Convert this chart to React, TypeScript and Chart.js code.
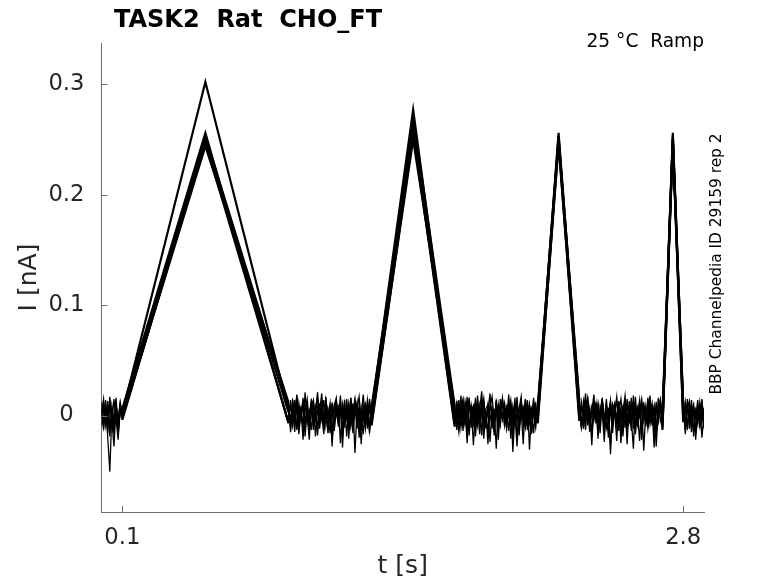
import { useEffect, useRef } from 'react';
import { Chart, registerables } from 'chart.js';

Chart.register(...registerables);

const FONT = '"DejaVu Sans", sans-serif';
const AXIS_GRAY = '#6e6e6e';
const TEXT_GRAY = '#262626';

const TITLE = 'TASK2  Rat  CHO_FT';
const CONDITION = '25 °C  Ramp';
const SOURCE = 'BBP Channelpedia ID 29159 rep 2';

const xTicks = [0.1, 2.8];
const yTicks = [0, 0.1, 0.2, 0.3];

// baseline samples are 10 ms apart inside each holding window (s)
const SAMPLE_DT = 0.01;
const baselineWindows: [number, number][] = [[0, 0.1], [0.9, 1.3], [1.7, 2.1], [2.3, 2.7], [2.8, 2.9]];
const rampPeakTimes = [0.5, 1.5, 2.2, 2.75];

// peak current of each ramp per sweep (nA)
const peaksA = [0.302, 0.277, 0.256, 0.256];
const peaksB = [0.256, 0.27, 0.253, 0.253];
const peaksC = [0.253, 0.262, 0.25, 0.25];
const peaksD = [0.25, 0.255, 0.248, 0.248];
const peaksE = [0.247, 0.25, 0.245, 0.246];
const peaksF = [0.244, 0.258, 0.251, 0.251];

// holding current in the windows between ramps per sweep (pA)
const baselineA = [
  8, -6, 14, -20, -51, 4, -12, 10, -4, 12, 2,
  5, -8, 12, -3, 18, -10, 6, -14, 9, 2, -6, 15, -2, 8, -11, 4, 20, -5, 10, -16, 3, 7, -9, 13, -4, 6, -20, 11, 0, -7, 16, -3, 9, -12, 5, -26, 8, -2, 14, -8, 4,
  -4, 10, -12, 7, 15, -6, 3, -18, 9, -2, 12, -9, 5, 22, -7, 1, -14, 8, 17, -5, 6, -22, 11, -3, 9, -10, 4, 14, -8, 2, -28, 7, 12, -4, 6, -13, 10, -1, 16, -6, 3,
  6, -9, 13, -2, 8, -15, 4, 19, -7, 11, -3, 5, -24, 9, 1, 14, -10, 7, -5, 12, -17, 3, 18, -6, 8, -2, -30, 10, -8, 5, 15, -4, 9, -12, 2, 11, -19, 6, -3, 13, -7,
  4, -10, 12, -6, 9, -14, 5, -3, 11, -20, 2,
];
const baselineB = [
  -3, 11, -9, 6, -14, 9, -5, 13, -18, 3, 6,
  -7, 9, -2, 14, -12, 5, -4, 10, -19, 7, 1, 12, -8, 3, 17, -6, 8, -13, 4, -1, 11, -24, 6, 13, -5, 2, 9, -11, 15, -3, 7, -16, 4, 10, -8, 1, 19, -4, 6, -14, 3,
  9, -5, 14, -11, 3, 7, -16, 12, -2, 5, -9, 18, -4, 8, -21, 6, 10, -3, 1, -13, 13, -7, 4, 16, -10, 7, -1, 11, -33, 3, 8, -6, 12, -2, 15, -9, 5, -17, 10, -4, 6,
  -2, 12, -8, 5, 16, -11, 7, -4, 10, -18, 3, 13, -6, 9, -1, -27, 6, 11, -9, 4, 15, -5, 8, -14, 2, 10, -3, 17, -10, 6, -22, 9, 1, -7, 12, -4, 8, -16, 5, 14, -9,
  -6, 8, -13, 11, -2, 7, -17, 10, -8, 4, -12,
];
const baselineC = [
  12, -10, 4, -16, 10, -7, 15, -3, -22, 8, 1,
  10, -4, 7, -15, 13, -1, 6, -10, 21, -6, 4, -13, 9, 2, -18, 11, -3, 14, -9, 6, -5, 12, -14, 3, 8, -25, 10, -2, 5, -11, 16, -7, 2, 12, -20, 7, -4, 9, -12, 15, -2,
  -8, 6, -14, 11, 2, -6, 17, -12, 4, 9, -19, 7, -3, 13, -9, 5, -26, 10, 3, -7, 14, -15, 8, -1, 11, -5, 19, -10, 6, -2, 12, -18, 4, 8, -8, 14, -31, 6, 2, -11, 9,
  11, -5, 3, -13, 17, -8, 6, -2, 12, -21, 8, 1, -10, 15, -6, 4, -16, 9, -3, 13, -25, 7, 2, 11, -7, 16, -12, 5, -1, 9, -15, 12, -6, 3, 18, -9, 7, -28, 4, 10, -3,
  9, -13, 6, -4, 14, -19, 3, -8, 12, -5, 7,
];
const baselineD = [
  -9, 6, -2, 13, -12, 5, -17, 9, -6, 11, -4,
  3, -11, 15, -5, 8, -17, 4, 11, -8, 1, -22, 9, 14, -4, 6, -12, 10, -2, 17, -9, 5, -15, 8, 2, -7, 13, -29, 6, -3, 11, -10, 4, 15, -6, 9, -1, -17, 12, -5, 7, -9,
  5, -13, 9, -4, 12, -8, 1, 16, -11, 6, -3, 10, -17, 4, 13, -6, 8, -24, 7, -2, 11, -9, 15, -4, 3, -12, 8, 1, -20, 12, -5, 6, 17, -10, 4, -3, 9, -15, 11, -7, 2,
  -5, 9, -12, 14, -3, 7, -19, 5, 10, -8, 2, 16, -14, 6, -4, 11, -9, 3, -23, 12, -2, 8, -11, 15, -6, 4, 13, -17, 7, -1, 10, -32, 5, -7, 12, -3, 8, -13, 16, -5, 2,
  -3, 12, -9, 5, -15, 8, -1, 14, -11, 6, -7,
];
const baselineE = [
  5, -13, 9, -8, 17, -4, -28, 7, -11, 4, -2,
  -6, 14, -9, 4, -13, 11, -3, 16, -7, 8, -14, 2, 12, -19, 7, -2, 9, -10, 14, 1, -16, 6, -8, 10, -4, 18, -12, 3, 7, -21, 9, -5, 13, -2, 5, -14, 10, -9, 2, 12, -6,
  7, -2, -15, 10, -6, 13, 3, -10, 8, -27, 5, 11, -7, 2, 15, -12, 9, -4, 6, -18, 12, 1, -9, 14, -3, 7, -14, 10, -6, 16, -22, 4, 9, -1, -11, 13, -7, 5, -16, 8, -2,
  3, -11, 8, -6, 13, 1, -16, 10, -4, 7, -12, 15, -8, 3, -20, 11, -2, 6, 12, -14, 4, -7, 9, -26, 13, -3, 7, -10, 2, 14, -18, 6, -5, 11, -8, 3, -13, 9, -4, 15, -11,
  6, -8, 15, -12, 3, 10, -16, 5, -9, 13, -5,
];
const baselineF = [
  2, 15, -7, 10, -19, 6, -9, 16, -14, 5, -1,
  12, -15, 6, -3, 19, -11, 8, -22, 4, 15, -6, 10, -13, 3, 21, -8, 1, -17, 13, -4, 7, -28, 9, 16, -10, 5, -2, 14, -19, 8, -5, 11, -34, 6, 17, -7, 3, -12, 10, -16, 8,
  -10, 13, -4, 18, -14, 7, -25, 11, 2, -8, 16, -3, 9, -18, 12, -6, 4, 20, -12, 6, -30, 10, -2, 15, -9, 3, 12, -21, 8, -5, 17, -11, 5, -26, 14, -1, 9, -15, 6, 11, -7,
  14, -12, 4, 20, -9, 6, -27, 12, -3, 9, -16, 15, 1, -11, 7, -35, 10, 3, 17, -8, 5, -19, 13, -4, 8, -14, 18, -6, 2, -23, 11, 6, -10, 16, -3, 7, -29, 12, -5, 9, -13,
  10, -17, 7, 13, -8, 4, -22, 9, -4, 15, -10,
];

const sweeps = [
  { baseline: baselineA, peaks: peaksA },
  { baseline: baselineB, peaks: peaksB },
  { baseline: baselineC, peaks: peaksC },
  { baseline: baselineD, peaks: peaksD },
  { baseline: baselineE, peaks: peaksE },
  { baseline: baselineF, peaks: peaksF },
];

function buildSweep(baseline: number[], peaks: number[]) {
  const pts: { x: number; y: number }[] = [];
  let k = 0;
  baselineWindows.forEach(([a, b], w) => {
    const n = Math.round((b - a) / SAMPLE_DT) + 1;
    for (let i = 0; i < n; i++) pts.push({ x: a + i * SAMPLE_DT, y: baseline[k++] / 1000 });
    if (w < rampPeakTimes.length) pts.push({ x: rampPeakTimes[w], y: peaks[w] });
  });
  return pts;
}

const decorations = {
  id: 'decorations',
  afterDraw(chart: Chart) {
    const { ctx, chartArea } = chart;
    const xs = chart.scales.x;
    const ys = chart.scales.y;
    ctx.save();
    // inward tick marks
    ctx.strokeStyle = AXIS_GRAY;
    ctx.lineWidth = 1;
    ctx.beginPath();
    yTicks.forEach(v => {
      const py = Math.round(ys.getPixelForValue(v)) + 0.5;
      ctx.moveTo(chartArea.left, py);
      ctx.lineTo(chartArea.left + 6, py);
    });
    xTicks.forEach(v => {
      const px = Math.round(xs.getPixelForValue(v)) + 0.5;
      ctx.moveTo(px, chartArea.bottom);
      ctx.lineTo(px, chartArea.bottom - 6);
    });
    ctx.stroke();

    ctx.fillStyle = '#000';
    ctx.font = `bold 24px ${FONT}`;
    ctx.textAlign = 'left';
    ctx.textBaseline = 'alphabetic';
    ctx.fillText(TITLE, 114, 26.5);

    ctx.font = `18.6px ${FONT}`;
    ctx.textAlign = 'right';
    ctx.fillText(CONDITION, 704, 46.5);

    ctx.font = `15.4px ${FONT}`;
    ctx.translate(717, 264);
    ctx.rotate(-Math.PI / 2);
    ctx.textAlign = 'center';
    ctx.textBaseline = 'middle';
    ctx.fillText(SOURCE, 0, 0);
    ctx.restore();
  },
};

function RampChart() {
  const canvasRef = useRef<HTMLCanvasElement>(null);
  const chartRef = useRef<Chart | null>(null);

  useEffect(() => {
    if (!canvasRef.current) return;
    chartRef.current?.destroy();
    chartRef.current = new Chart(canvasRef.current, {
      type: 'line',
      data: {
        datasets: sweeps.map((s, i) => ({
          label: `sweep ${i + 1}`,
          data: buildSweep(s.baseline, s.peaks),
          borderColor: '#000',
          borderWidth: 1.3,
          pointRadius: 0,
          tension: 0,
          fill: false,
          // ramp edges drawn a bit heavier, like the noisy bundles in the recording
          segment: {
            borderWidth: (c: any) => (c.p1.parsed.x - c.p0.parsed.x > 0.02 ? 2.2 : 1.3),
          },
        })),
      },
      options: {
        animation: false,
        responsive: true,
        maintainAspectRatio: false,
        layout: { padding: { left: 0, top: 43, right: 74, bottom: 0 } },
        plugins: {
          legend: { display: false },
          tooltip: { enabled: false },
        },
        scales: {
          x: {
            type: 'linear',
            min: 0,
            max: 2.9,
            afterBuildTicks: s => { s.ticks = xTicks.map(value => ({ value })); },
            afterFit: s => { s.height = 71; },
            grid: { display: false, drawTicks: false },
            border: { display: true, color: AXIS_GRAY, width: 1 },
            ticks: {
              autoSkip: false,
              maxRotation: 0,
              padding: 12,
              color: TEXT_GRAY,
              font: { family: FONT, size: 22.7 },
              callback: v => String(v),
            },
            title: {
              display: true,
              text: 't [s]',
              color: TEXT_GRAY,
              font: { family: FONT, size: 25 },
              padding: { top: 0, bottom: 2 },
            },
          },
          y: {
            min: -0.0874,
            max: 0.3374,
            afterBuildTicks: s => { s.ticks = yTicks.map(value => ({ value })); },
            afterFit: s => { s.width = 101.5; },
            grid: { display: false, drawTicks: false },
            border: { display: true, color: AXIS_GRAY, width: 1 },
            ticks: {
              crossAlign: 'center',
              padding: 17,
              color: TEXT_GRAY,
              font: { family: FONT, size: 22.7 },
              callback: v => String(v),
            },
            title: {
              display: true,
              text: 'I [nA]',
              color: TEXT_GRAY,
              font: { family: FONT, size: 25 },
              padding: { top: 14, bottom: 0 },
            },
          },
        },
      },
      plugins: [decorations],
    });
    return () => chartRef.current?.destroy();
  }, []);

  return (
    <div style={{ position: 'absolute', left: 0, top: 0, width: '778px', height: '583px', background: '#fff' }}>
      <canvas ref={canvasRef} role="img" aria-label="Ramp current traces: I [nA] versus t [s]" />
    </div>
  );
}

export default function App() {
  return <RampChart />;
}
